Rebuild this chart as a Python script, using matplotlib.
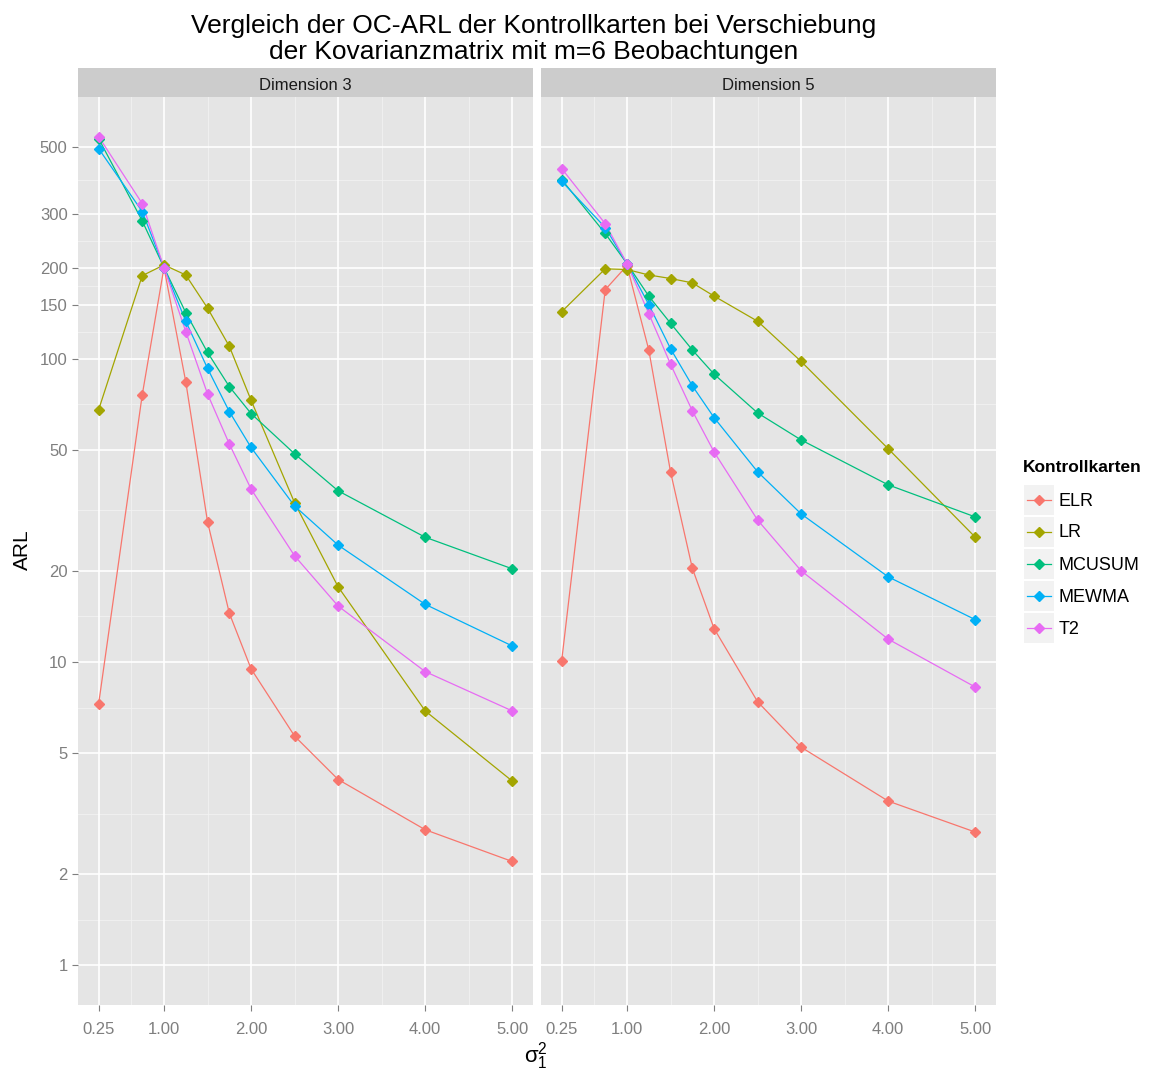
"""
OC-ARL comparison of control charts under a covariance shift (m=6),
redrawn in the old ggplot2 grey theme: two facets, log-scaled ARL.
"""

import matplotlib

matplotlib.use("Agg")
import matplotlib.pyplot as plt
import numpy as np

plt.rcParams["font.family"] = ["Liberation Sans", "DejaVu Sans"]
plt.rcParams["mathtext.fontset"] = "custom"
plt.rcParams["mathtext.rm"] = "Liberation Sans"
plt.rcParams["mathtext.it"] = "Liberation Sans"

# shift of sigma_1^2 (same grid in both facets)
sigma_sq = [0.25, 0.75, 1.0, 1.25, 1.5, 1.75, 2.0, 2.5, 3.0, 4.0, 5.0]

charts = ["ELR", "LR", "MCUSUM", "MEWMA", "T2"]
colors = ["#F8766D", "#A3A500", "#00BF7D", "#00B0F6", "#E76BF3"]

# Dimension 3
elr_d3 = [7.3, 76, 200, 84, 29, 14.5, 9.5, 5.7, 4.1, 2.8, 2.2]
lr_d3 = [68, 188, 204, 189, 147, 110, 73, 33.5, 17.7, 6.9, 4.05]
mcusum_d3 = [532, 285, 200, 142, 105, 81, 66, 48.6, 36.7, 25.8, 20.3]
mewma_d3 = [493, 306, 200, 133, 93, 67, 51, 32.7, 24.3, 15.5, 11.3]
t2_d3 = [540, 325, 200, 123, 76.6, 52.4, 37.2, 22.4, 15.3, 9.3, 6.9]

# Dimension 5
elr_d5 = [10.1, 169, 203, 107, 42.4, 20.4, 12.9, 7.4, 5.24, 3.48, 2.75]
lr_d5 = [143, 198, 197, 189, 184, 178, 161, 133, 98, 50.5, 25.8]
mcusum_d5 = [390, 259, 206, 161, 131, 107, 89, 66.3, 54, 38.4, 30.1]
mewma_d5 = [385, 271, 206, 151, 108, 81.5, 64, 42.4, 30.8, 19.1, 13.8]
t2_d5 = [424, 279, 206, 141, 96, 67.4, 49.3, 29.4, 20, 11.9, 8.27]

facets = ["Dimension 3", "Dimension 5"]
facet_data = [
    [elr_d3, lr_d3, mcusum_d3, mewma_d3, t2_d3],
    [elr_d5, lr_d5, mcusum_d5, mewma_d5, t2_d5],
]

x_ticks = [0.25, 1, 2, 3, 4, 5]
x_labels = ["0.25", "1.00", "2.00", "3.00", "4.00", "5.00"]
y_ticks = [1, 2, 5, 10, 20, 50, 100, 150, 200, 300, 500]

W, H = 1151, 1073
PANEL_BG = "#E5E5E5"
STRIP_BG = "#CCCCCC"
TICK_GREY = "#7F7F7F"


def px_axes(fig, left, top, right, bottom):
    """Add axes from pixel box (top-left origin)."""
    return fig.add_axes([left / W, 1 - bottom / H, (right - left) / W, (bottom - top) / H])


def draw_panel(ax, series, show_y):
    ax.set_facecolor(PANEL_BG)
    ax.set_yscale("log")
    ax.set_xlim(0.0125, 5.2375)
    ax.set_ylim(0.74, 730)

    # minor grid: log-midpoints between y breaks, midpoints between x breaks
    logt = np.log10(y_ticks)
    y_minor = 10 ** ((logt[:-1] + logt[1:]) / 2)
    x_minor = [(a + b) / 2 for a, b in zip(x_ticks[:-1], x_ticks[1:])]
    for v in y_minor:
        ax.axhline(v, color="#F2F2F2", lw=0.6, zorder=0)
    for v in x_minor:
        ax.axvline(v, color="#F2F2F2", lw=0.6, zorder=0)
    for v in y_ticks:
        ax.axhline(v, color="white", lw=1.2, zorder=0.5)
    for v in x_ticks:
        ax.axvline(v, color="white", lw=1.2, zorder=0.5)

    for vals, c in zip(series, colors):
        ax.plot(sigma_sq, vals, color=c, lw=0.9, zorder=2)
    for vals, c in zip(series, colors):
        ax.plot(sigma_sq, vals, ls="none", marker="D", ms=5.2, color=c, zorder=3)

    ax.set_xticks(x_ticks)
    ax.set_xticklabels(x_labels)
    ax.set_yticks(y_ticks)
    ax.set_yticklabels([str(v) for v in y_ticks] if show_y else [])
    ax.minorticks_off()
    ax.tick_params(axis="both", colors=TICK_GREY, labelcolor=TICK_GREY,
                   labelsize=12, length=4, width=0.8)
    ax.tick_params(axis="x", pad=8)
    if not show_y:
        ax.tick_params(axis="y", length=0)
    for s in ax.spines.values():
        s.set_visible(False)


def draw_strip(fig, left, right, label):
    ax = px_axes(fig, left, 68, right, 97)
    ax.set_facecolor(STRIP_BG)
    ax.set_xticks([])
    ax.set_yticks([])
    for s in ax.spines.values():
        s.set_visible(False)
    fig.text((left + right) / 2 / W, 1 - 85 / H, label, ha="center", va="center",
             fontsize=12, color="#1A1A1A")


def draw_legend(fig):
    fig.text(1023 / W, 1 - 468 / H, "Kontrollkarten", fontsize=12.5,
             fontweight="bold", va="center", ha="left")
    for i, (name, c) in enumerate(zip(charts, colors)):
        yc = 500 + 32 * i
        ax = px_axes(fig, 1024, yc - 15, 1054, yc + 15)
        ax.set_facecolor("#F2F2F2")
        ax.set_xlim(0, 1)
        ax.set_ylim(0, 1)
        ax.plot([0.1, 0.9], [0.5, 0.5], color=c, lw=0.9)
        ax.plot([0.5], [0.5], marker="D", ms=5.2, color=c)
        ax.set_xticks([])
        ax.set_yticks([])
        for s in ax.spines.values():
            s.set_visible(False)
        fig.text(1059 / W, 1 - (yc + 1) / H, name, fontsize=13, va="center", ha="left")


def main():
    fig = plt.figure(figsize=(W / 100, H / 100), dpi=100)

    panels = [(78, 533), (541, 996)]
    for i, ((left, right), label, series) in enumerate(zip(panels, facets, facet_data)):
        ax = px_axes(fig, left, 97, right, 1005)
        draw_panel(ax, series, show_y=(i == 0))
        draw_strip(fig, left, right, label)

    fig.text(534 / W, 1 - 39 / H,
             "Vergleich der OC-ARL der Kontrollkarten bei Verschiebung\n"
             "der Kovarianzmatrix mit m=6 Beobachtungen",
             ha="center", va="center", fontsize=19, linespacing=1.1)
    fig.text(22 / W, 1 - 550 / H, "ARL", rotation=90, ha="center", va="center",
             fontsize=15)
    fig.text(536 / W, 1 - 1056 / H, r"$\mathregular{\sigma_1^2}$", ha="center",
             va="center", fontsize=16)

    draw_legend(fig)

    fig.savefig("out.png", dpi=100)
    plt.close(fig)


if __name__ == "__main__":
    main()
